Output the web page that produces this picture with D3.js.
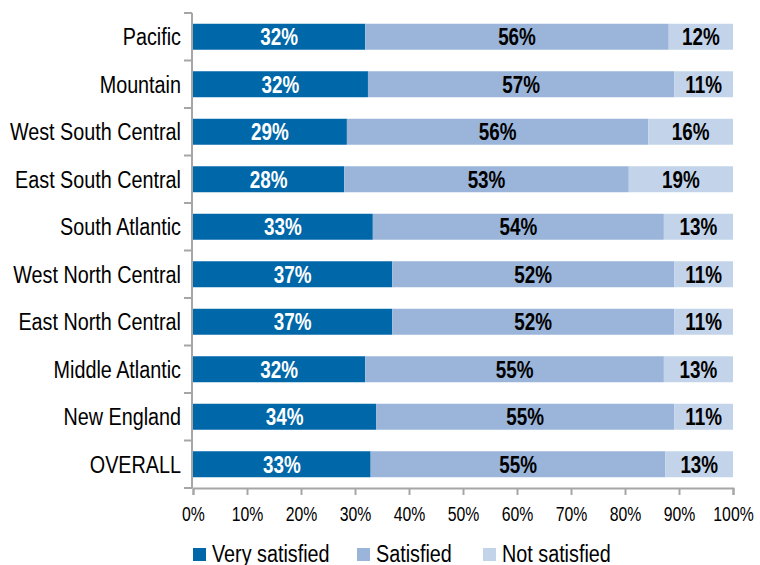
<!DOCTYPE html>
<html>
<head>
<meta charset="utf-8">
<script src="https://cdn.jsdelivr.net/npm/d3@7.9.0/dist/d3.min.js"></script>
<style>
  body { margin: 0; background: #fff; }
  svg { display: block; font-family: "Liberation Sans Narrow", "Arial Narrow", "Liberation Sans", Arial, sans-serif; }
</style>
</head>
<body>
<div id="chart"></div>
<script>
const regions = [
  'Pacific', 'Mountain', 'West South Central', 'East South Central', 'South Atlantic',
  'West North Central', 'East North Central', 'Middle Atlantic', 'New England', 'OVERALL'
];
const verySatisfied = [31.9, 32.4, 28.5, 28.0, 33.3, 36.9, 36.9, 31.9, 33.9, 32.9];
const satisfied     = [56.2, 56.7, 55.8, 52.7, 53.9, 52.2, 52.2, 55.3, 55.2, 54.6];
const notSatisfied  = [11.9, 10.9, 15.7, 19.3, 12.8, 10.9, 10.9, 12.8, 10.9, 12.5];
const seriesNames = ['Very satisfied', 'Satisfied', 'Not satisfied'];
const xTicks = [0, 10, 20, 30, 40, 50, 60, 70, 80, 90, 100];

const colors = ['#0067a9', '#9ab5d9', '#c3d4ea'];
const labelColors = ['#fff', '#000', '#000'];

const width = 760;
const height = 565;
const plot = { left: 193, right: 733, top: 13, bottom: 488 };
// no narrow face installed, so squeeze the regular one
const squeeze = (k) => `scale(${k}, 1)`;

const rows = regions.map((region, i) => ({
  region,
  very: verySatisfied[i],
  sat: satisfied[i],
  not: notSatisfied[i],
}));

const stack = d3.stack().keys(['very', 'sat', 'not']);
const series = stack(rows);

const svg = d3.select('#chart')
  .append('svg')
  .attr('width', width)
  .attr('height', height);

const xScale = d3.scaleLinear().domain([0, 100]).range([plot.left, plot.right]);
const yScale = d3.scaleBand()
  .domain(regions)
  .range([plot.top, plot.bottom])
  .paddingInner(0.453)
  .paddingOuter(0.2265);

// bars
const groups = svg.append('g')
  .selectAll('g')
  .data(series)
  .join('g')
  .attr('fill', (d, i) => colors[i]);

groups.selectAll('rect')
  .data((d) => d)
  .join('rect')
  .attr('x', (d) => xScale(d[0]))
  .attr('y', (d) => yScale(d.data.region))
  .attr('width', (d) => xScale(d[1]) - xScale(d[0]))
  .attr('height', yScale.bandwidth());

// value labels
series.forEach((s, i) => {
  svg.append('g')
    .selectAll('text')
    .data(s)
    .join('text')
    .attr('transform', (d) =>
      `translate(${xScale((d[0] + d[1]) / 2)}, ${yScale(d.data.region) + yScale.bandwidth() / 2}) ${squeeze(0.82)}`)
    .attr('dy', '0.36em')
    .attr('text-anchor', 'middle')
    .attr('font-size', 23)
    .attr('font-weight', 'bold')
    .attr('fill', labelColors[i])
    .text((d) => Math.round(d[1] - d[0]) + '%');
});

// x axis
const xAxis = svg.append('g')
  .attr('transform', `translate(0, ${plot.bottom})`)
  .call(d3.axisBottom(xScale).tickValues(xTicks).tickSize(7).tickPadding(12).tickFormat((d) => d + '%'));
xAxis.attr('font-family', null);
xAxis.select('.domain').attr('stroke', '#a6a6a6').attr('stroke-width', 2);
xAxis.selectAll('.tick line').attr('stroke', '#a6a6a6').attr('stroke-width', 2);
xAxis.selectAll('.tick text')
  .attr('font-size', 19.5)
  .attr('fill', '#000')
  .attr('transform', squeeze(0.81));

// y axis: tick marks between categories
const yAxisG = svg.append('g').attr('transform', `translate(${plot.left - 1}, 0)`);
const step = yScale.step();
const sepY = d3.range(regions.length + 1).map((k) => plot.top + k * step);
yAxisG.append('line')
  .attr('y1', plot.top).attr('y2', plot.bottom)
  .attr('stroke', '#a6a6a6').attr('stroke-width', 2);
yAxisG.selectAll('line.sep')
  .data(sepY)
  .join('line')
  .attr('class', 'sep')
  .attr('x1', -8).attr('x2', 0)
  .attr('y1', (d) => d).attr('y2', (d) => d)
  .attr('stroke', '#a6a6a6').attr('stroke-width', 2);
yAxisG.selectAll('text')
  .data(regions)
  .join('text')
  .attr('transform', (d) => `translate(-11, ${yScale(d) + yScale.bandwidth() / 2}) ${squeeze(0.86)}`)
  .attr('dy', '0.36em')
  .attr('text-anchor', 'end')
  .attr('font-size', 23)
  .attr('fill', '#000')
  .text((d) => d);

// legend
const legendX = [193, 357, 483];
const legend = svg.append('g')
  .selectAll('g')
  .data(seriesNames)
  .join('g')
  .attr('transform', (d, i) => `translate(${legendX[i]}, 548)`);
legend.append('rect')
  .attr('width', 13).attr('height', 13)
  .attr('fill', (d, i) => colors[i]);
legend.append('text')
  .attr('transform', `translate(19, 6) ${squeeze(0.86)}`)
  .attr('dy', '0.36em')
  .attr('font-size', 23)
  .attr('fill', '#000')
  .text((d) => d);
</script>
</body>
</html>
